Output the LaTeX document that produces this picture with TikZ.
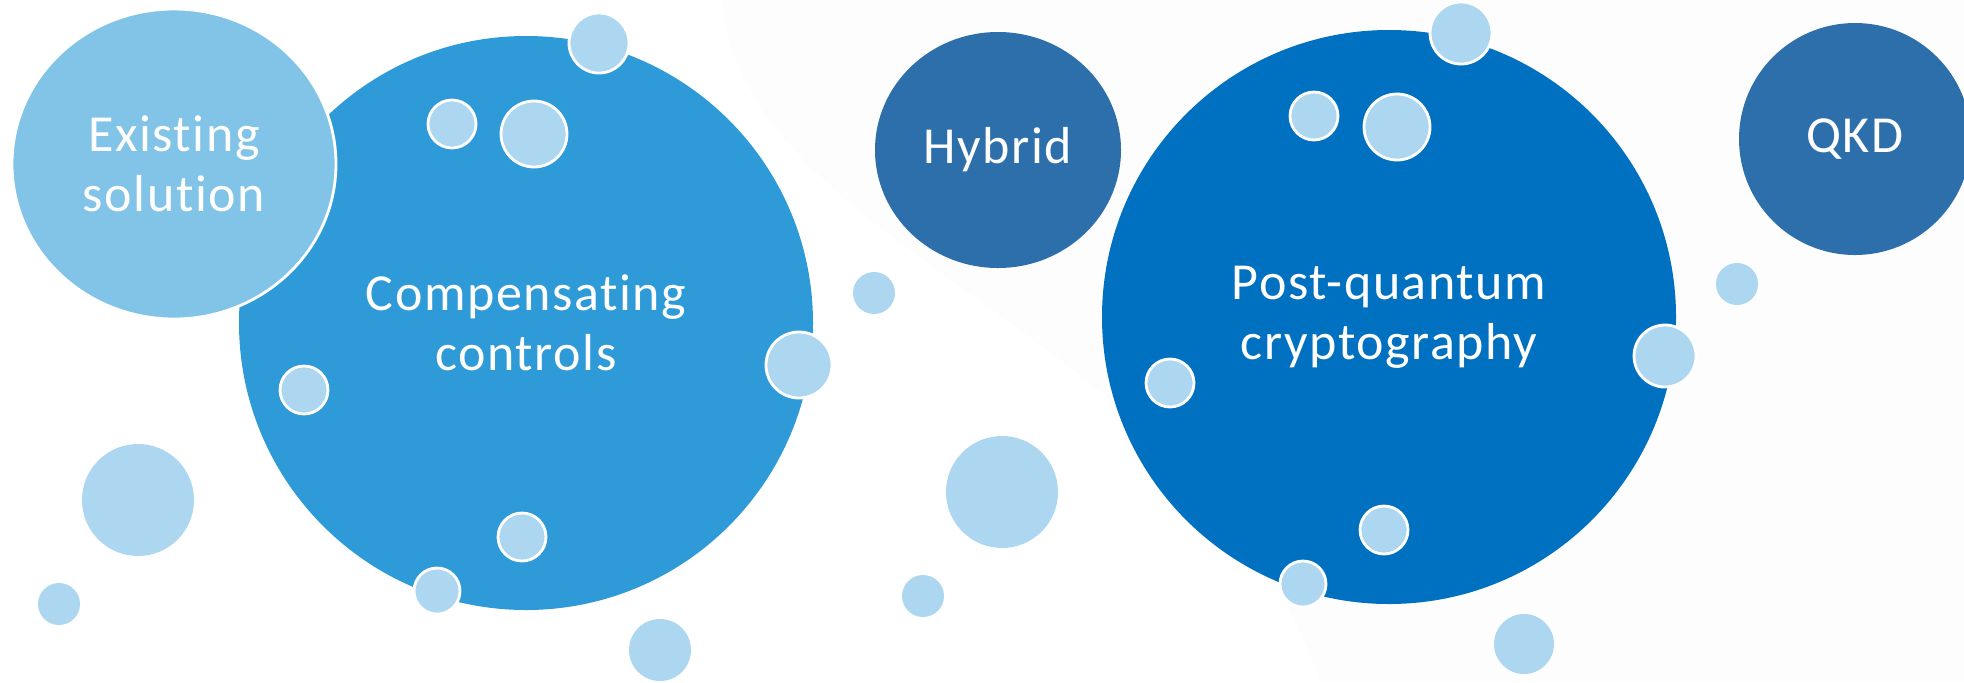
\documentclass[tikz,border=0pt]{standalone}
\usepackage{fontspec}
\setmainfont{Carlito}[Ligatures=NoCommon, LetterSpace=3]
\usetikzlibrary{shapes.geometric}
\definecolor{lightsol}{HTML}{82C4E8}
\definecolor{compblue}{HTML}{2E9BD8}
\definecolor{steelblue}{HTML}{2D6FAA}
\definecolor{pqblue}{HTML}{0070C0}
\definecolor{bubble}{HTML}{ADD7F0}
\definecolor{haze}{HTML}{FDFDFD}
\tikzset{
  bigball/.style={ellipse, inner sep=0pt, text=white, align=center,
    font=\fontsize{26}{30}\selectfont},
  dot/.style={circle, inner sep=0pt, fill=bubble, minimum size=#1},
  rimdot/.style={dot=#1, draw=white, line width=1.4pt},
}
\begin{document}
\begin{tikzpicture}[x=0.5pt, y=-0.5pt]
\clip (0,0) rectangle (1964,682);
\useasboundingbox (0,0) rectangle (1964,682);
% faint textured backdrop on the right
\fill[haze] (722,0) .. controls (740,250) and (1200,330) .. (1320,682) -- (1964,682) -- (1964,0) -- cycle;

% main circles
\node[bigball, fill=compblue, minimum width=287pt, minimum height=287pt] (comp) at (526,323) {Compensating\\controls};
\node[bigball, fill=lightsol, draw=white, line width=1.4pt, minimum width=162pt, minimum height=155pt] (exist) at (174,164) {Existing\\solution};
\node[bigball, fill=steelblue, minimum width=123pt, minimum height=118pt] (hybrid) at (998,150) {Hybrid};
\node[bigball, fill=pqblue, minimum width=287pt, minimum height=287pt] (pq) at (1389,317) {Post-quantum\\cryptography};
\node[bigball, fill=steelblue, minimum width=116pt, minimum height=116pt] (qkd) at (1855,139) {QKD};

% bubbles
\node[rimdot=30pt] (b1) at (599,43) {};
\node[rimdot=24pt] (b2) at (452,124) {};
\node[rimdot=33pt] (b3) at (534,134) {};
\node[rimdot=33pt] (b4) at (799,365) {};
\node[dot=21pt] (b5) at (874,293) {};
\node[rimdot=24pt] (b6) at (304,390) {};
\node[dot=56pt] (b7) at (138,500) {};
\node[dot=21pt] (b8) at (59,604) {};
\node[rimdot=24pt] (b9) at (522,537) {};
\node[rimdot=23pt] (b10) at (437,591) {};
\node[dot=31pt] (b11) at (660,650) {};
\node[dot=56pt] (b12) at (1002,492) {};
\node[dot=21pt] (b13) at (923,596) {};
\node[rimdot=31pt] (b14) at (1461,33) {};
\node[rimdot=24pt] (b15) at (1314,116) {};
\node[rimdot=33pt] (b16) at (1397,127) {};
\node[rimdot=31pt] (b17) at (1665,356) {};
\node[dot=21pt] (b18) at (1737,284) {};
\node[rimdot=24pt] (b19) at (1170,383) {};
\node[rimdot=24pt] (b20) at (1384,530) {};
\node[rimdot=23pt] (b21) at (1303,584) {};
\node[dot=30pt] (b22) at (1524,644) {};
\end{tikzpicture}
\end{document}
